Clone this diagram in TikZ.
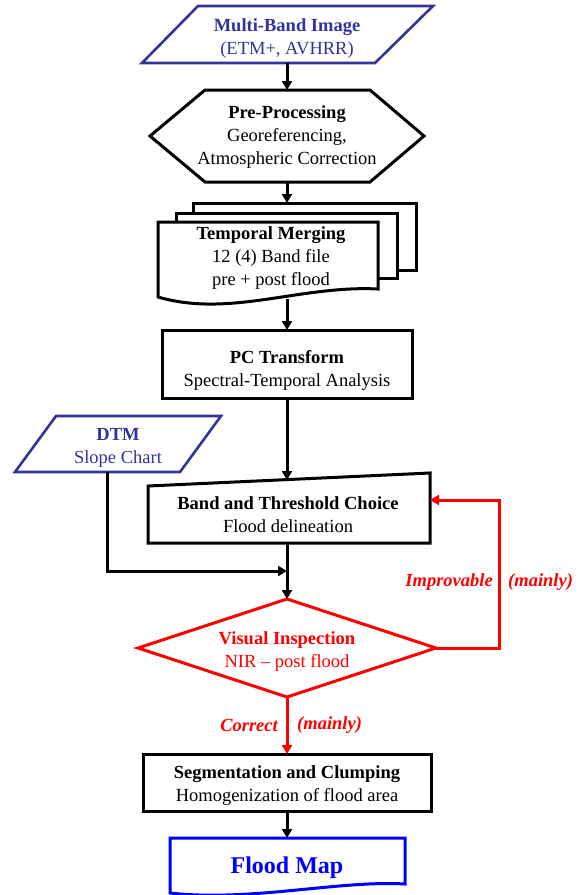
\documentclass[tikz,border=0pt]{standalone}
\usepackage{fontspec}
\setmainfont{Liberation Serif}
\usetikzlibrary{arrows.meta}
\definecolor{navy}{RGB}{51,51,153}
\tikzset{
  box/.style={line width=3pt, fill=white},
  arr/.style={line width=3pt, -{Triangle[length=9pt,width=10pt]}},
  txt/.style={align=center, inner sep=0pt, font=\fontsize{18.5}{23}\selectfont},
  lbl/.style={inner sep=0pt, red, font=\fontsize{18.5}{23}\selectfont\bfseries\itshape},
}

\begin{document}
\begin{tikzpicture}[x=1pt,y=-1pt]
\useasboundingbox (0,0) rectangle (578,895);

% inputs
\draw[box,draw=navy,line width=2.6pt] (198,6)--(433,6)--(375,63)--(142,63)--cycle;
\node[txt,navy] (img) at (287,39) {\textbf{Multi-Band Image}\\(ETM+, AVHRR)};
\coordinate (img-s) at (287,63);
\draw[box,draw=navy,line width=2.6pt] (56,416)--(221,416)--(180,472)--(15,472)--cycle;
\node[txt,navy] (dtm) at (118,448) {\textbf{DTM}\\Slope Chart};
\coordinate (dtm-s) at (107,472);

% pre-processing
\draw[box] (150,136)--(205,90)--(370,90)--(424,136)--(370,182)--(205,182)--cycle;
\node[txt] (pre) at (287,137) {\textbf{Pre-Processing}\\Georeferencing,\\Atmospheric Correction};
\coordinate (pre-n) at (287,90);
\coordinate (pre-s) at (287,182);

% temporal merging (stack of files)
\draw[box] (193,203) rectangle (416,270);
\draw[box] (176,213) rectangle (397,278);
\draw[box] (158,222)--(378,222)--(378,289) .. controls (300,285) and (230,318) .. (158,297)--cycle;
\node[txt] (merge) at (271,258) {\textbf{Temporal Merging}\\12 (4) Band file\\pre + post flood};
\coordinate (merge-n) at (287,203);
\coordinate (merge-s) at (287,299);

% pc transform
\draw[box] (162,330) rectangle (412,398);
\node[txt] (pc) at (287,370) {\textbf{PC Transform}\\Spectral-Temporal Analysis};
\coordinate (pc-n) at (287,330);
\coordinate (pc-s) at (287,398);

% band and threshold
\draw[box] (148,486)--(430,473)--(430,543)--(148,543)--cycle;
\node[txt] (band) at (288,515) {\textbf{Band and Threshold Choice}\\Flood delineation};
\coordinate (band-n) at (287,480);
\coordinate (band-s) at (287,543);
\coordinate (band-e) at (430,500);
\coordinate (join) at (287,571);

% visual inspection
\draw[box,draw=red] (138,648)--(287,599)--(436,648)--(287,697)--cycle;
\node[txt,red] (vis) at (287,652) {\textbf{Visual Inspection}\\NIR -- post flood};
\coordinate (vis-n) at (287,599);
\coordinate (vis-s) at (287,697);
\coordinate (vis-e) at (436,648);
\coordinate (loop) at (499,648);

% segmentation
\draw[box] (143,754) rectangle (431,811);
\node[txt] (seg) at (287,786) {\textbf{Segmentation and Clumping}\\Homogenization of flood area};
\coordinate (seg-n) at (287,754);
\coordinate (seg-s) at (287,811);

% output
\draw[box,draw=blue] (170,838)--(405,838)--(405,884) .. controls (340,880) and (250,902) .. (170,893)--cycle;
\node[txt,blue,font=\fontsize{24}{28}\selectfont\bfseries] (map) at (287,868) {Flood Map};
\coordinate (map-n) at (287,838);

% connectors
\draw[arr] (img-s) -- (pre-n);
\draw[arr] (pre-s) -- (merge-n);
\draw[arr] (merge-s) -- (pc-n);
\draw[arr] (pc-s) -- (band-n);
\draw[arr] (band-s) -- (vis-n);
\draw[arr] (dtm-s) |- (join);
\draw[arr,red] (vis-e) -- (loop) |- (band-e);
\draw[arr,red] (vis-s) -- (seg-n);
\draw[arr] (seg-s) -- (map-n);

\node[lbl,anchor=east] (imp) at (493,582) {Improvable};
\node[lbl,anchor=west] (imp-m) at (508,582) {(mainly)};
\node[lbl,anchor=east] (cor) at (278,725) {Correct};
\node[lbl,anchor=west] (cor-m) at (297,725) {(mainly)};
\end{tikzpicture}
\end{document}
